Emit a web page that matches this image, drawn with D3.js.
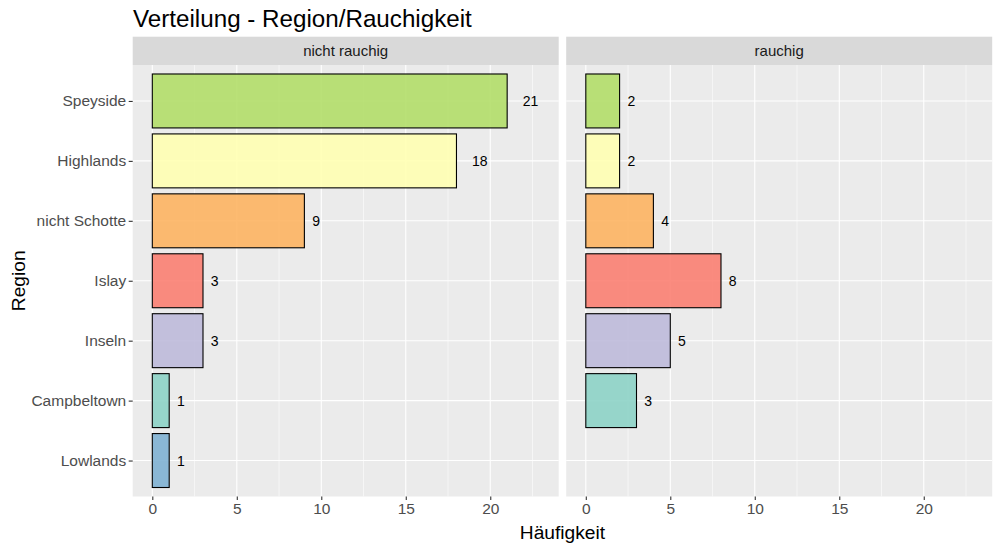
<!DOCTYPE html>
<html>
<head>
<meta charset="utf-8">
<script src="https://cdn.jsdelivr.net/npm/d3@7"></script>
<style>
  html, body { margin: 0; padding: 0; background: #fff; }
  svg { display: block; font-family: "Liberation Sans", Arial, sans-serif; }
</style>
</head>
<body>
<svg id="chart" width="1000" height="550"></svg>
<script>
// ---- data ----
const regions = ["Speyside", "Highlands", "nicht Schotte", "Islay", "Inseln", "Campbeltown", "Lowlands"];
const panels = ["nicht rauchig", "rauchig"];
const countsNichtRauchig = [21, 18, 9, 3, 3, 1, 1];
const countsRauchig = [2, 2, 4, 8, 5, 3, null];
const regionColors = ["#B3DE69", "#FFFFB3", "#FDB462", "#FB8072", "#BEBADA", "#8DD3C7", "#80B1D3"];
const xTicks = [0, 5, 10, 15, 20];
const xMinor = [2.5, 7.5, 12.5, 17.5, 22.5];
const title = "Verteilung - Region/Rauchigkeit";
const xTitle = "Häufigkeit";
const yTitle = "Region";

const seriesByPanel = [countsNichtRauchig, countsRauchig];

// ---- layout ----
const svg = d3.select("#chart");
const panelTop = 65, panelBottom = 496.5;
const stripTop = 36.7;
const panelBoxes = [[132.7, 558.7], [566.2, 992.2]];

const y = d3.scalePoint().domain(regions).range([panelTop, panelBottom]).padding(0.6);
const bandH = y.step() * 0.9;

const colorScale = d3.scaleOrdinal().domain(regions).range(regionColors);

// title
svg.append("text")
  .attr("x", 133).attr("y", 27)
  .attr("font-size", 24.2).attr("fill", "#000")
  .text(title);

panels.forEach((p, pi) => {
  const [x0, x1] = panelBoxes[pi];
  const x = d3.scaleLinear().domain([-1.16, 24.05]).range([x0, x1]);
  const g = svg.append("g");

  // strip
  g.append("rect").attr("x", x0).attr("y", stripTop)
    .attr("width", x1 - x0).attr("height", panelTop - stripTop)
    .attr("fill", "#D9D9D9");
  g.append("text").attr("x", (x0 + x1) / 2).attr("y", (stripTop + panelTop) / 2)
    .attr("text-anchor", "middle").attr("dominant-baseline", "central")
    .attr("font-size", 15).attr("fill", "#1A1A1A").text(p);

  // panel background
  g.append("rect").attr("x", x0).attr("y", panelTop)
    .attr("width", x1 - x0).attr("height", panelBottom - panelTop)
    .attr("fill", "#EBEBEB");

  // minor grid
  g.selectAll(".minor").data(xMinor).enter().append("line")
    .attr("x1", d => x(d)).attr("x2", d => x(d))
    .attr("y1", panelTop).attr("y2", panelBottom)
    .attr("stroke", "#fff").attr("stroke-width", 0.55);
  // major grid
  g.selectAll(".major").data(xTicks).enter().append("line")
    .attr("x1", d => x(d)).attr("x2", d => x(d))
    .attr("y1", panelTop).attr("y2", panelBottom)
    .attr("stroke", "#fff").attr("stroke-width", 1.1);
  g.selectAll(".hgrid").data(regions).enter().append("line")
    .attr("x1", x0).attr("x2", x1)
    .attr("y1", d => y(d)).attr("y2", d => y(d))
    .attr("stroke", "#fff").attr("stroke-width", 1.1);

  // bars
  const vals = seriesByPanel[pi];
  const data = regions.map((r, i) => ({ r, v: vals[i] })).filter(d => d.v != null && d.v > 0);
  g.selectAll(".bar").data(data).enter().append("rect")
    .attr("x", x(0)).attr("y", d => y(d.r) - bandH / 2)
    .attr("width", d => x(d.v) - x(0)).attr("height", bandH)
    .attr("fill", d => colorScale(d.r)).attr("fill-opacity", 0.9)
    .attr("stroke", "#000").attr("stroke-width", 1.1);

  // labels (hjust = -1 style)
  g.selectAll(".lab").data(data).enter().append("text")
    .attr("x", d => x(d.v)).attr("y", d => y(d.r))
    .attr("dominant-baseline", "central")
    .attr("font-size", 14).attr("fill", "#000")
    .text(d => d.v)
    .each(function () {
      const w = this.getComputedTextLength();
      d3.select(this).attr("dx", w);
    });

  // x axis
  const xAxis = d3.axisBottom(x).tickValues(xTicks).tickSize(3.5).tickPadding(3);
  const ax = svg.append("g").attr("transform", `translate(0,${panelBottom})`).call(xAxis);
  ax.select(".domain").remove();
  ax.selectAll(".tick line").attr("stroke", "#333").attr("stroke-width", 1.1);
  ax.selectAll(".tick text").attr("fill", "#4D4D4D").attr("font-size", 15.5)
    .attr("font-family", "Liberation Sans, Arial, sans-serif");
});

// y axis (left panel only)
const yAxis = d3.axisLeft(y).tickSize(4).tickPadding(2.5);
const ay = svg.append("g").attr("transform", `translate(${panelBoxes[0][0]},0)`).call(yAxis);
ay.select(".domain").remove();
ay.selectAll(".tick line").attr("stroke", "#333").attr("stroke-width", 1.1);
ay.selectAll(".tick text").attr("fill", "#4D4D4D").attr("font-size", 15.5)
  .attr("font-family", "Liberation Sans, Arial, sans-serif");

// axis titles
svg.append("text")
  .attr("x", (panelBoxes[0][0] + panelBoxes[1][1]) / 2).attr("y", 538.5)
  .attr("text-anchor", "middle").attr("font-size", 19.2).attr("fill", "#000")
  .text(xTitle);
svg.append("text")
  .attr("transform", `translate(24.5,${(panelTop + panelBottom) / 2}) rotate(-90)`)
  .attr("text-anchor", "middle").attr("font-size", 19.2).attr("fill", "#000")
  .text(yTitle);
</script>
</body>
</html>
